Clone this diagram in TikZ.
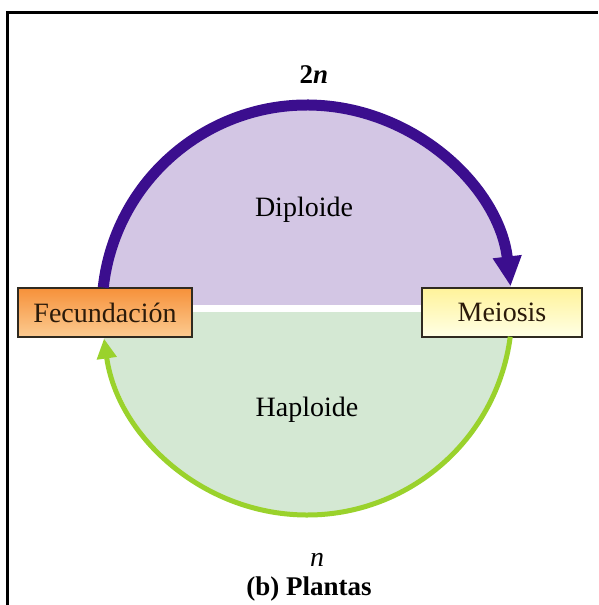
\documentclass[tikz,border=0pt]{standalone}
\usepackage{fontspec}
\setmainfont{Liberation Serif}
\usetikzlibrary{arrows.meta, positioning, calc}
\definecolor{cycDark}{HTML}{3B0E8E}
\definecolor{dipFill}{HTML}{D3C6E4}
\definecolor{hapFill}{HTML}{D4E8D3}
\definecolor{hapLine}{HTML}{9AD22C}
\definecolor{fecTop}{HTML}{F6913A}
\definecolor{fecBottom}{HTML}{FCCB91}
\definecolor{meiTop}{HTML}{FFF39A}
\definecolor{meiBottom}{HTML}{FFFFE6}
\definecolor{boxEdge}{HTML}{2F2A20}
\definecolor{boxText}{HTML}{2A1A0A}
\tikzset{
  stageBox/.style={rectangle, draw=boxEdge, line width=1.2pt, text=boxText,
                   minimum height=49pt, inner sep=0pt, font=\fontsize{28}{30}\selectfont},
  fecBox/.style={stageBox, top color=fecTop, bottom color=fecBottom, minimum width=174pt},
  meiBox/.style={stageBox, top color=meiTop, bottom color=meiBottom, minimum width=160pt},
  phaseText/.style={font=\fontsize{28}{30}\selectfont, inner sep=0pt},
  ploidyText/.style={font=\bfseries\fontsize{27}{30}\selectfont, inner sep=0pt},
  arrowD/.style={-{Triangle[length=30pt, width=27pt]}, cycDark, line width=11pt},
  arrowH/.style={-{Triangle[length=20pt, width=19pt]}, hapLine, line width=5pt},
}

\begin{document}
\begin{tikzpicture}[x=1pt, y=1pt]
  \useasboundingbox (0,0) rectangle (598,605);
  \draw[line width=2.5pt] (7.5,0) |- (598,592.5);
  \coordinate (c) at (307,295);
  % two halves of the cycle
  \begin{scope}
    \clip (0,300) rectangle (598,605);
    \fill[dipFill] (c) circle (205);
  \end{scope}
  \begin{scope}
    \clip (0,0) rectangle (598,292);
    \fill[hapFill] (c) circle (205);
  \end{scope}
  \node[phaseText] (dip) at (304,395) {Diploide};
  \node[phaseText] (hap) at (307,195) {Haploide};
  \node[ploidyText] (twoN) at (314,530) {2\textit{n}};
  \node[phaseText] (oneN) at (317,45) {\textit{n}};
  \node[ploidyText] (title) at (309,16) {(b) Plantas};
  % stages
  \node[fecBox] (fec) at (105,292.5) {Fecundación};
  \node[meiBox] (mei) at (502,292.5) {Meiosis};
  \coordinate (dStart) at ($(c)+(173.7:205)$);
  \coordinate (hStart) at ($(c)+(-7.5:205)$);
  \draw[arrowD] (dStart) arc[start angle=173.7, end angle=6.6, radius=205];
  \draw[arrowH] (hStart) arc[start angle=-7.5, end angle=-172, radius=205];
\end{tikzpicture}
\end{document}
